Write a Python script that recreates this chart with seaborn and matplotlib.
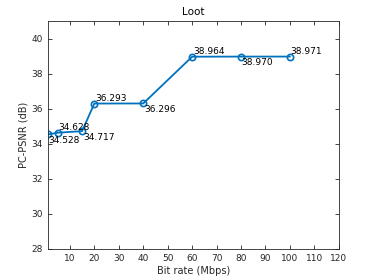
import pandas as pd
import matplotlib
matplotlib.use("Agg")
import matplotlib.pyplot as plt
import seaborn as sns

bitrate = [1, 5, 15, 20, 40, 60, 80, 100]
psnr = [34.528, 34.628, 34.717, 36.293, 36.296, 38.964, 38.970, 38.971]
labels = ["34.528", "34.628", "34.717", "36.293", "36.296", "38.964", "38.970", "38.971"]
# label above (1) or below (-1) the point
side = [-1, 1, -1, 1, -1, 1, -1, 1]

sns.set_style("ticks")
plt.rcParams['font.family'] = ['DejaVu Sans']

df = pd.DataFrame({"rate": bitrate, "psnr": psnr})

fig = plt.figure(figsize=(3.74, 2.8), dpi=100)
ax = fig.add_axes([0.128, 0.111, 0.778, 0.814])
sns.lineplot(data=df, x="rate", y="psnr", ax=ax, color="#0072BD", lw=1.3,
             marker="o", markersize=4.5, markerfacecolor="none",
             markeredgecolor="#0072BD", markeredgewidth=1.2)

for x, y, t, s in zip(bitrate, psnr, labels, side):
    ax.text(x + 0.3, y + (0.05 if s > 0 else -0.08), t, fontsize=6.5,
            va="bottom" if s > 0 else "top", ha="left", color="black")

ax.set_xlim(1, 120)
ax.set_ylim(28, 41)
ax.set_xticks(range(10, 121, 10))
ax.set_yticks(range(28, 41, 2))
ax.tick_params(direction="in", length=3, width=0.6, labelsize=6.5,
               colors="#262626", top=True, right=True)
for sp in ax.spines.values():
    sp.set_visible(True)
    sp.set_linewidth(0.6)
    sp.set_color("#262626")
ax.set_xlabel("Bit rate (Mbps)", fontsize=7, color="#262626", labelpad=2)
ax.set_ylabel("PC-PSNR (dB)", fontsize=7, color="#262626", labelpad=2)
ax.set_title("Loot", fontsize=7.5, color="black", pad=4)

fig.savefig("out.png", dpi=100)
